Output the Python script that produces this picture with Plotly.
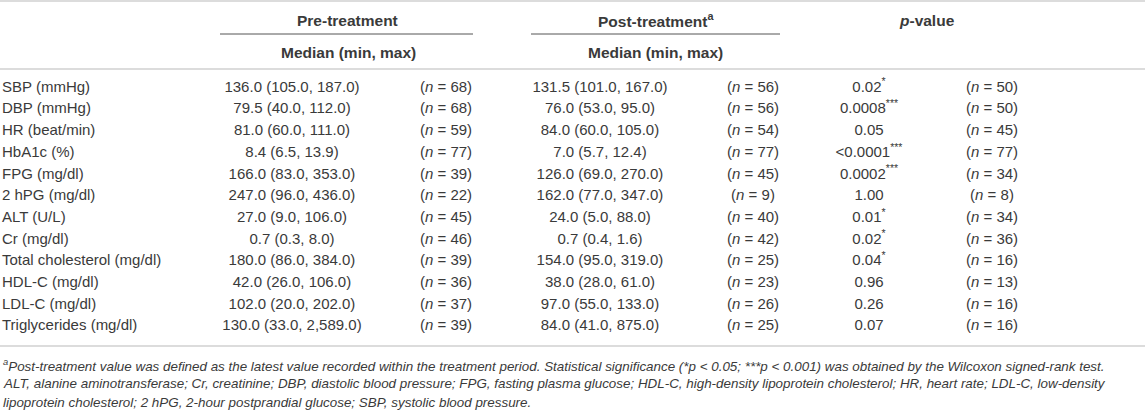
import plotly.graph_objects as go

variables = ["SBP (mmHg)", "DBP (mmHg)", "HR (beat/min)", "HbA1c (%)", "FPG (mg/dl)",
             "2 hPG (mg/dl)", "ALT (U/L)", "Cr (mg/dl)", "Total cholesterol (mg/dl)",
             "HDL-C (mg/dl)", "LDL-C (mg/dl)", "Triglycerides (mg/dl)"]

pre_med = [136.0, 79.5, 81.0, 8.4, 166.0, 247.0, 27.0, 0.7, 180.0, 42.0, 102.0, 130.0]
pre_min = [105.0, 40.0, 60.0, 6.5, 83.0, 96.0, 9.0, 0.3, 86.0, 26.0, 20.0, 33.0]
pre_max = [187.0, 112.0, 111.0, 13.9, 353.0, 436.0, 106.0, 8.0, 384.0, 106.0, 202.0, 2589.0]
pre_n = [68, 68, 59, 77, 39, 22, 45, 46, 39, 36, 37, 39]

post_med = [131.5, 76.0, 84.0, 7.0, 126.0, 162.0, 24.0, 0.7, 154.0, 38.0, 97.0, 84.0]
post_min = [101.0, 53.0, 60.0, 5.7, 69.0, 77.0, 5.0, 0.4, 95.0, 28.0, 55.0, 41.0]
post_max = [167.0, 95.0, 105.0, 12.4, 270.0, 347.0, 88.0, 1.6, 319.0, 61.0, 133.0, 875.0]
post_n = [56, 56, 54, 77, 45, 9, 40, 42, 25, 23, 26, 25]

p_values = ["0.02", "0.0008", "0.05", "<0.0001", "0.0002", "1.00", "0.01", "0.02",
            "0.04", "0.96", "0.26", "0.07"]
p_stars = ["*", "***", "", "***", "***", "", "*", "*", "*", "", "", ""]
p_n = [50, 50, 45, 77, 34, 8, 34, 36, 16, 13, 16, 16]

footnotes = [
    "<sup>a</sup>Post-treatment value was defined as the latest value recorded within the treatment period. "
    "Statistical significance (*p < 0.05; ***p < 0.001) was obtained by the Wilcoxon signed-rank test.",
    "ALT, alanine aminotransferase; Cr, creatinine; DBP, diastolic blood pressure; FPG, fasting plasma glucose; "
    "HDL-C, high-density lipoprotein cholesterol; HR, heart rate; LDL-C, low-density",
    "lipoprotein cholesterol; 2 hPG, 2-hour postprandial glucose; SBP, systolic blood pressure.",
]

W, H = 1145, 411
FONT = "Liberation Sans, Arial, sans-serif"
TXT = "#3a3a3a"
row_y = [88 + i * 21.7 for i in range(len(variables))]


def rng(med, lo, hi):
    return [f"{m:,.1f} ({a:,.1f}, {b:,.1f})" for m, a, b in zip(med, lo, hi)]


def ntxt(ns):
    return [f"(<i>n</i> = {n})" for n in ns]


cols = [
    (2, variables, "middle right"),
    (292, rng(pre_med, pre_min, pre_max), "middle center"),
    (446, ntxt(pre_n), "middle center"),
    (600, rng(post_med, post_min, post_max), "middle center"),
    (753, ntxt(post_n), "middle center"),
    (869, [p + (f"<sup>{s}</sup>" if s else "") for p, s in zip(p_values, p_stars)], "middle center"),
    (992, ntxt(p_n), "middle center"),
]

fig = go.Figure()
for x, texts, pos in cols:
    fig.add_trace(go.Scatter(
        x=[x] * len(texts), y=row_y, text=texts, mode="text",
        textposition=pos, textfont=dict(family=FONT, size=15, color=TXT),
        hoverinfo="skip", showlegend=False,
    ))

# header text
headers = [
    (347, 20, "<b>Pre-treatment</b>"),
    (348, 52, "<b>Median (min, max)</b>"),
    (656, 20, "<b>Post-treatment<sup>a</sup></b>"),
    (655, 52, "<b>Median (min, max)</b>"),
    (927, 20, "<b><i>p</i>-value</b>"),
]
for x, y, t in headers:
    fig.add_annotation(x=x, y=y, xref="x", yref="y", text=t, showarrow=False,
                       xanchor="center", yanchor="middle",
                       font=dict(family=FONT, size=15.5, color=TXT))

for i, t in enumerate(footnotes):
    fig.add_annotation(x=1, y=365 + i * 18.8, xref="x", yref="y", text=f"<i>{t}</i>",
                       showarrow=False, xanchor="left", yanchor="middle",
                       font=dict(family=FONT, size=13.4, color=TXT))

# rules
for y in [1, 69, 346]:
    fig.add_shape(type="line", x0=0, x1=W, y0=y, y1=y, xref="x", yref="y",
                  line=dict(color="#dcdcdc", width=2))
for x0, x1 in [(220, 473), (531, 780)]:
    fig.add_shape(type="line", x0=x0, x1=x1, y0=34, y1=34, xref="x", yref="y",
                  line=dict(color="#555555", width=1))

fig.update_layout(
    width=W, height=H, margin=dict(l=0, r=0, t=0, b=0),
    paper_bgcolor="white", plot_bgcolor="white",
    xaxis=dict(range=[0, W], visible=False, fixedrange=True),
    yaxis=dict(range=[H, 0], visible=False, fixedrange=True),
)
fig.write_html("out.html", config={"displayModeBar": False},
               post_script="document.body.style.margin='0px';document.body.style.overflow='hidden';")
